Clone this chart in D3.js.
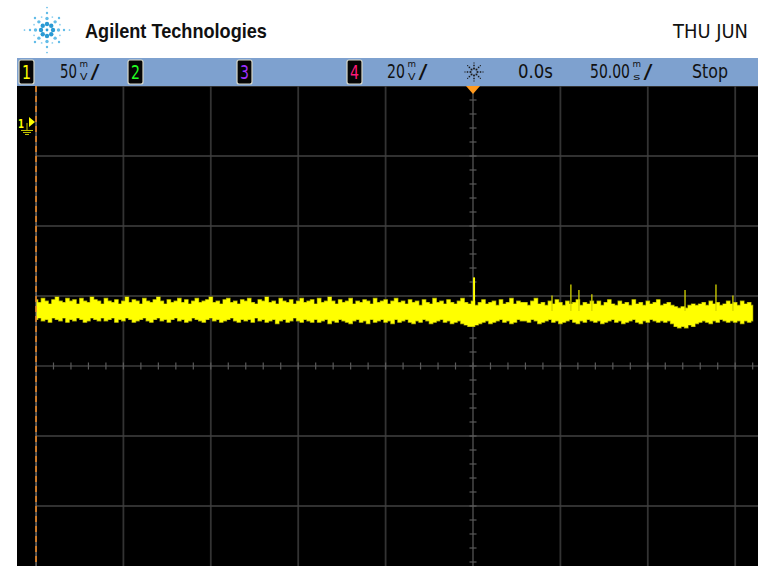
<!DOCTYPE html>
<html>
<head>
<meta charset="utf-8">
<script src="https://cdn.jsdelivr.net/npm/d3@7"></script>
<style>
  html, body { margin: 0; padding: 0; background: #ffffff; }
  svg { display: block; }
</style>
</head>
<body>
<svg id="scope" width="758" height="566"></svg>
<script>
// ---- Acquisition settings ----
const ch1VoltsPerDiv = 50;        // mV/div
const ch4VoltsPerDiv = 20;        // mV/div
const timePerDiv = 50;            // ms/div
const ch1GroundDiv = 3.486;       // channel 1 ground reference, divisions above screen centre
const traceStart = -250;          // ms, first sample
const traceStep = 2;              // ms between displayed samples

// ---- Status bar labels ----
const channelLabels = ["1", "2", "3", "4"];
const channelColors = ["#ffff00", "#22ff22", "#a030ff", "#ff1a7a"];
const headerDate = "THU JUN";
const delayLabel = "0.0s";
const timebaseLabel = "50.00";
const runState = "Stop";

// ---- Channel 1 trace: per-sample peak (high) and minimum (low) in mV ----
const traceHigh = [
  -127,-129,-126,-128,-130,-127,-125,-128,-129,-126,-128,-127,-130,-126,-128,-129,-125,-127,-128,-130,
  -126,-128,-129,-127,-130,-128,-125,-129,-127,-128,-130,-126,-128,-129,-127,-125,-128,-130,-127,-129,
  -128,-126,-129,-127,-130,-128,-126,-129,-128,-127,-125,-129,-128,-130,-127,-126,-129,-128,-130,-127,
  -128,-126,-129,-130,-127,-128,-125,-129,-128,-130,-126,-128,-129,-127,-130,-128,-126,-129,-128,-127,
  -130,-126,-129,-128,-125,-128,-130,-127,-129,-128,-126,-130,-128,-129,-127,-128,-130,-126,-129,-128,
  -127,-130,-128,-126,-129,-128,-130,-127,-129,-128,-131,-127,-129,-130,-126,-129,-128,-130,-127,-129,
  -130,-128,-126,-129,-130,-128,-131,-129,-127,-130,-129,-128,-131,-127,-130,-129,-126,-130,-128,-129,
  -129,-131,-128,-126,-130,-129,-131,-128,-130,-127,-129,-131,-128,-130,-129,-127,-131,-129,-130,-128,
  -130,-128,-131,-129,-127,-130,-131,-128,-130,-129,-131,-127,-130,-129,-131,-128,-130,-129,-127,-131,
  -130,-129,-131,-132,-133,-132,-133,-131,-130,-131,-130,-129,-131,-128,-130,-129,-131,-130,-128,-130,
  -129,-131,-128,-130,-129,-131
];
const traceLow = [
  -141,-140,-142,-141,-143,-140,-141,-142,-140,-143,-141,-142,-140,-141,-143,-142,-140,-141,-142,-140,
  -142,-141,-140,-143,-141,-142,-140,-141,-143,-142,-141,-140,-142,-143,-141,-140,-142,-141,-143,-141,
  -140,-142,-141,-143,-142,-140,-141,-142,-143,-141,-140,-142,-141,-143,-142,-141,-140,-142,-143,-141,
  -142,-141,-143,-140,-142,-141,-143,-142,-141,-144,-142,-141,-143,-142,-140,-142,-143,-141,-142,-143,
  -141,-143,-142,-141,-144,-142,-143,-141,-142,-143,-144,-142,-141,-143,-142,-144,-141,-143,-142,-141,
  -143,-142,-144,-141,-143,-142,-141,-143,-144,-142,-143,-141,-142,-144,-143,-142,-141,-143,-142,-144,
  -143,-142,-144,-145,-146,-146,-145,-144,-143,-142,-144,-143,-142,-141,-143,-142,-144,-143,-141,-142,
  -142,-143,-141,-142,-144,-143,-142,-141,-143,-142,-144,-143,-142,-141,-143,-144,-142,-143,-141,-142,
  -143,-142,-144,-143,-142,-141,-143,-142,-144,-143,-142,-141,-143,-144,-142,-143,-141,-142,-143,-142,
  -143,-142,-144,-146,-147,-146,-147,-145,-146,-144,-143,-142,-143,-144,-142,-143,-141,-142,-143,-142,
  -143,-142,-144,-142,-143,-142
];
// Isolated glitches riding on the trace (time in ms, peak in mV)
const glitchTimes = [0.6, 45.2, 56.0, 60.6, 68.0, 121.3, 139.0, 148.7];
const glitchPeaks = [-111, -124, -116, -120, -123, -120, -116, -124];

// ---- Layout ----
const W = 758, H = 566;
const screen = { left: 17, top: 86 };
const grid = { left: 36, top: 86, divW: 87.4, divH: 70, nx: 10, ny: 8 };
const gridRight = grid.left + grid.divW * grid.nx;
const gridBottom = grid.top + grid.divH * grid.ny;

const svg = d3.select("#scope");

const x = d3.scaleLinear()
  .domain([-timePerDiv * grid.nx / 2, timePerDiv * grid.nx / 2])
  .range([grid.left, gridRight]);
const y = d3.scaleLinear()
  .domain([(-grid.ny / 2 - ch1GroundDiv) * ch1VoltsPerDiv, (grid.ny / 2 - ch1GroundDiv) * ch1VoltsPerDiv])
  .range([gridBottom, grid.top]);

// White page
svg.append("rect").attr("width", W).attr("height", H).attr("fill", "#ffffff");

// Text squeezed horizontally to a given width (narrow instrument font)
function fitText(parent, str, x0, y0, w, size, opts = {}) {
  const g = parent.append("g");
  const t = g.append("text")
    .attr("x", 0).attr("y", 0)
    .attr("font-family", opts.family || barFont)
    .attr("font-size", size)
    .attr("font-weight", opts.weight || "normal")
    .attr("fill", opts.fill || "#111")
    .attr("text-anchor", opts.anchor || "start")
    .text(str);
  const natural = t.node().getComputedTextLength();
  const sx = natural > 0 ? w / natural : 1;
  g.attr("transform", `translate(${x0},${y0}) scale(${sx},1)`);
  return g;
}
const barFont = "DejaVu Sans Condensed, DejaVu Sans, sans-serif";

// ---- Agilent spark logo ----
const logo = svg.append("g").attr("transform", "translate(47,30)");
const spokeDots = [ {r: 6, s: 2.2}, {r: 11.5, s: 1.7}, {r: 17, s: 1.2}, {r: 22.5, s: 0.85} ];
for (let k = 0; k < 8; k++) {
  const a = k * Math.PI / 4;
  const reach = (k % 2 === 0) ? spokeDots : spokeDots.slice(0, 3);
  reach.forEach((d, j) => {
    logo.append("circle")
      .attr("cx", Math.cos(a) * d.r).attr("cy", Math.sin(a) * d.r)
      .attr("r", d.s)
      .attr("fill", j === 0 ? "#2a9ad4" : "#62bce8");
  });
}
for (let k = 0; k < 8; k++) {
  const a = k * Math.PI / 4 + Math.PI / 8;
  logo.append("circle")
    .attr("cx", Math.cos(a) * 14).attr("cy", Math.sin(a) * 14)
    .attr("r", 0.9).attr("fill", "#8fd0f0");
}
logo.append("circle").attr("r", 1.4).attr("fill", "#2a9ad4");

fitText(svg, "Agilent Technologies", 85, 38, 182, 20,
  { family: "Liberation Sans, Arial, sans-serif", weight: "bold" });
fitText(svg, headerDate, 673, 37.5, 75, 19);

// ---- Status bar ----
svg.append("rect")
  .attr("x", screen.left).attr("y", 58).attr("width", W - screen.left).attr("height", 28)
  .attr("fill", "#7ea1cf");

const boxX = [19, 128, 237, 347];
channelLabels.forEach((lab, i) => {
  svg.append("rect")
    .attr("x", boxX[i]).attr("y", 60).attr("width", 15).attr("height", 24)
    .attr("rx", 2).attr("fill", "#050505")
    .attr("stroke", "#d8d8c8").attr("stroke-width", 1.2);
  fitText(svg, lab, boxX[i] + 3, 79, 9, 19, { fill: channelColors[i] });
});

function barText(str, x0, w) {
  return fitText(svg, str, x0, 78, w, 19);
}
// Scale readout: value, stacked unit (prefix over base unit) and a slash
function scaleReadout(value, valueW, prefix, unit, x0) {
  barText(value, x0, valueW);
  const ux = x0 + valueW + 2.5;
  fitText(svg, prefix, ux, 67.2, 8.5, 8.5);
  fitText(svg, unit, ux + 0.5, 79.5, 7.5, 9);
  barText("/", ux + 11, 9);
}

scaleReadout(String(ch1VoltsPerDiv), 17, "m", "V", 60);
scaleReadout(String(ch4VoltsPerDiv), 18, "m", "V", 387);

// trigger-mode sparkle icon
const spark = svg.append("g").attr("transform", "translate(474,72)");
for (let k = 0; k < 8; k++) {
  const a = k * Math.PI / 4;
  [3.5, 6.5, 9].forEach((r, j) => {
    const s = [1.8, 1.5, 1.1][j];
    spark.append("rect")
      .attr("x", Math.cos(a) * r - s / 2).attr("y", Math.sin(a) * r - s / 2)
      .attr("width", s).attr("height", s)
      .attr("fill", "#1b1b1b");
  });
}

barText(delayLabel, 518, 35);
scaleReadout(timebaseLabel, 40, "m", "s", 590);
barText(runState, 692, 36);

// ---- Display area ----
svg.append("rect")
  .attr("x", screen.left).attr("y", screen.top)
  .attr("width", W - screen.left).attr("height", H - screen.top)
  .attr("fill", "#000000");

svg.append("clipPath").attr("id", "gridClip")
  .append("rect").attr("x", grid.left).attr("y", grid.top)
  .attr("width", gridRight - grid.left).attr("height", gridBottom - grid.top);

const plot = svg.append("g").attr("clip-path", "url(#gridClip)");

// Graticule
const xDivs = d3.range(-grid.nx / 2, grid.nx / 2 + 1).map(k => k * timePerDiv);
const yDivs = d3.range(-grid.ny / 2, grid.ny / 2 + 1)
  .map(k => (k - ch1GroundDiv) * ch1VoltsPerDiv);

plot.selectAll(".vgrid").data(xDivs.filter(t => t !== 0)).enter().append("line")
  .attr("x1", d => x(d)).attr("x2", d => x(d))
  .attr("y1", grid.top).attr("y2", gridBottom)
  .attr("stroke", "#333333").attr("stroke-width", 1.8);
plot.selectAll(".hgrid").data(yDivs.filter((v, i) => i !== grid.ny / 2)).enter().append("line")
  .attr("x1", grid.left).attr("x2", gridRight)
  .attr("y1", d => y(d)).attr("y2", d => y(d))
  .attr("stroke", "#424242").attr("stroke-width", 1.6);

// Centre axes with minor ticks
const yMid = y((0 - ch1GroundDiv) * ch1VoltsPerDiv);
const xMid = x(0);
plot.append("line").attr("x1", grid.left).attr("x2", gridRight)
  .attr("y1", yMid).attr("y2", yMid).attr("stroke", "#5a5a5a").attr("stroke-width", 1.2);
plot.append("line").attr("x1", xMid).attr("x2", xMid)
  .attr("y1", grid.top).attr("y2", gridBottom).attr("stroke", "#5a5a5a").attr("stroke-width", 1.2);

const xMinor = d3.range(-grid.nx / 2 * 5, grid.nx / 2 * 5 + 1).map(k => k * timePerDiv / 5);
plot.selectAll(".xtick").data(xMinor).enter().append("line")
  .attr("x1", d => x(d)).attr("x2", d => x(d))
  .attr("y1", yMid - 3.5).attr("y2", yMid + 3.5)
  .attr("stroke", "#5a5a5a").attr("stroke-width", 1.2);
const yMinor = d3.range(-grid.ny / 2 * 5, grid.ny / 2 * 5 + 1)
  .map(k => (k / 5 - ch1GroundDiv) * ch1VoltsPerDiv);
plot.selectAll(".ytick").data(yMinor).enter().append("line")
  .attr("x1", xMid - 3.5).attr("x2", xMid + 3.5)
  .attr("y1", d => y(d)).attr("y2", d => y(d))
  .attr("stroke", "#5a5a5a").attr("stroke-width", 1.2);

// Channel 1 trace: one min/max column per displayed sample
const samples = traceHigh.map((hi, i) => ({ t: traceStart + i * traceStep, hi: hi, lo: traceLow[i] }));
const band = d3.area()
  .x(d => x(d.t))
  .y0(d => y(d.lo))
  .y1(d => y(d.hi))
  .curve(d3.curveStep);
// dim outer fringe, then the bright core
plot.append("path").datum(samples)
  .attr("d", band)
  .attr("fill", "#9a9a00")
  .attr("stroke", "#9a9a00").attr("stroke-width", 1.2);
plot.append("path").datum(samples)
  .attr("d", band)
  .attr("fill", "#ffff00");

// Glitches
const glitches = glitchTimes.map((t, i) => ({ t: t, v: glitchPeaks[i] }));
const baseline = (0 - 2.7) * ch1VoltsPerDiv;
plot.selectAll(".glitch").data(glitches).enter().append("line")
  .attr("x1", d => x(d.t)).attr("x2", d => x(d.t))
  .attr("y1", d => y(d.v)).attr("y2", y(baseline))
  .attr("stroke", (d, i) => i === 0 ? "#ffff00" : "#d6d600")
  .attr("stroke-width", (d, i) => i === 0 ? 2 : 1.3);

// Time reference marker on the left edge
svg.append("line")
  .attr("x1", grid.left).attr("x2", grid.left)
  .attr("y1", grid.top).attr("y2", H)
  .attr("stroke", "#7a7a7a").attr("stroke-width", 1.2);
svg.append("line")
  .attr("x1", grid.left).attr("x2", grid.left)
  .attr("y1", grid.top).attr("y2", H)
  .attr("stroke", "#ff8c1a").attr("stroke-width", 1.4)
  .attr("stroke-dasharray", "6,4");

// Trigger position marker
svg.append("path")
  .attr("d", `M${xMid - 7},${grid.top} L${xMid + 7},${grid.top} L${xMid},${grid.top + 8}Z`)
  .attr("fill", "#ff9a1f");

// Channel 1 ground marker
const gy = y(0);
fitText(svg, "1", 18, gy + 6, 6, 13, { fill: "#ffff00", weight: "bold" });
svg.append("path")
  .attr("d", `M29,${gy - 5} L35,${gy} L29,${gy + 5}Z`)
  .attr("fill", "#ffff00");
const gnd = svg.append("g").attr("stroke", "#c8c800").attr("stroke-width", 1);
gnd.append("line").attr("x1", 27).attr("x2", 27).attr("y1", gy + 1).attr("y2", gy + 8);
gnd.append("line").attr("x1", 21).attr("x2", 33).attr("y1", gy + 8.5).attr("y2", gy + 8.5);
gnd.append("line").attr("x1", 23).attr("x2", 31).attr("y1", gy + 10.5).attr("y2", gy + 10.5);
gnd.append("line").attr("x1", 25).attr("x2", 29).attr("y1", gy + 12.5).attr("y2", gy + 12.5);
</script>
</body>
</html>
